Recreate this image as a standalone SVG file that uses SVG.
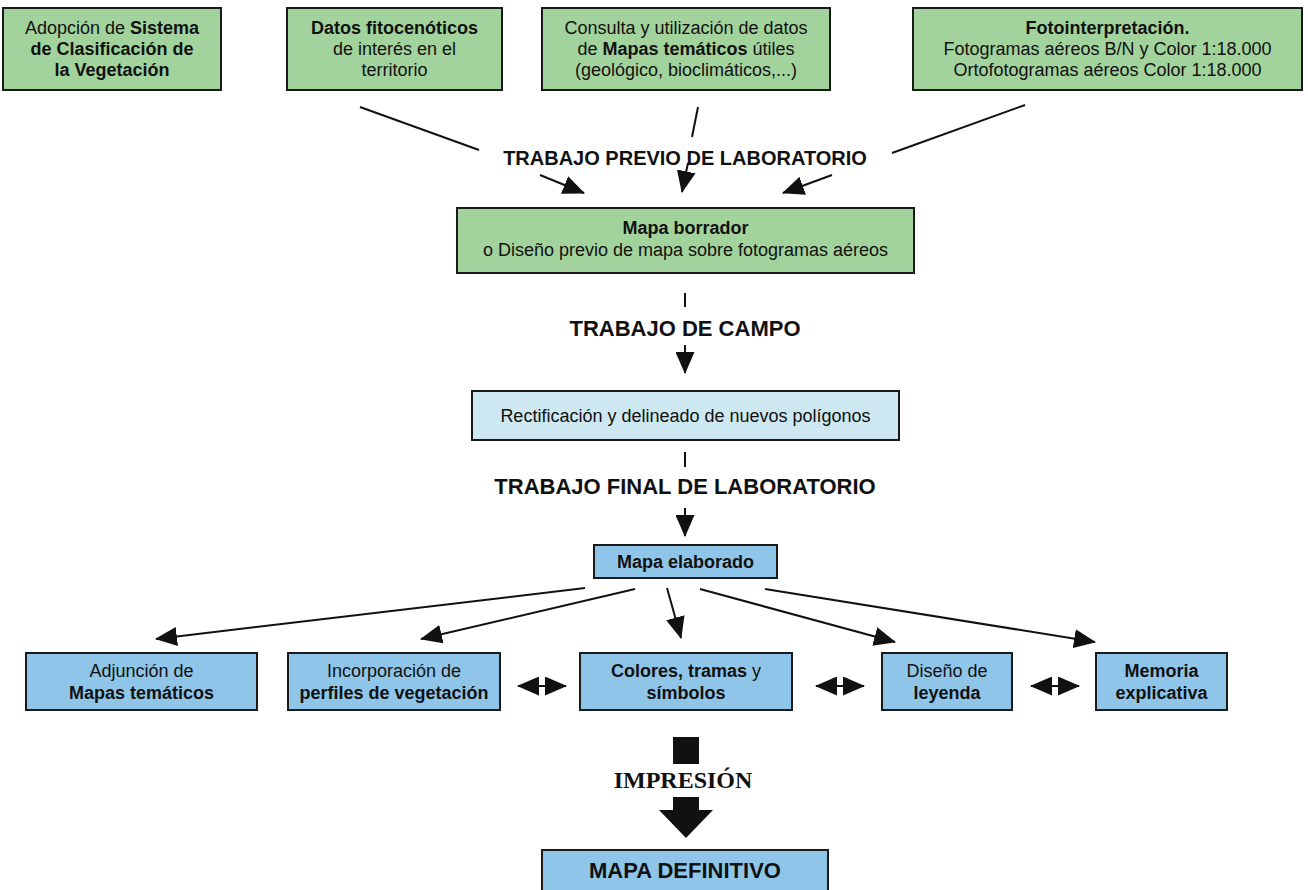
<svg xmlns="http://www.w3.org/2000/svg" width="1308" height="890" viewBox="0 0 1308 890">
<style>
text{font-family:"Liberation Sans",Arial,sans-serif;fill:#111;text-anchor:middle;font-size:18px}
.b{font-weight:bold}
.g{fill:#a3d39c;stroke:#1a1a1a;stroke-width:2}
.lb{fill:#cde8f0;stroke:#1a1a1a;stroke-width:2}
.mb{fill:#8fc5e8;stroke:#1a1a1a;stroke-width:2}
.ln{stroke:#111;stroke-width:2;fill:none}
.h1{font-size:20px;font-weight:bold}
.h2{font-size:22px;font-weight:bold}
</style>
<defs>
<marker id="ah" markerUnits="userSpaceOnUse" markerWidth="22" markerHeight="19" viewBox="0 0 22 19" refX="21" refY="9.5" orient="auto-start-reverse">
<path d="M0,0 L22,9.5 L0,19 z" fill="#111"/>
</marker>
</defs>
<rect width="1308" height="890" fill="#fff"/>

<g id="n1"><rect class="g" x="3" y="8" width="218" height="82"/>
<text x="112" y="34">Adopción de <tspan class="b">Sistema</tspan></text>
<text x="112" y="55" class="b">de Clasificación de</text>
<text x="112" y="76" class="b">la Vegetación</text></g>

<g id="n2"><rect class="g" x="287" y="8" width="215" height="82"/>
<text x="394.5" y="34" class="b">Datos fitocenóticos</text>
<text x="394.5" y="55">de interés en el</text>
<text x="394.5" y="76">territorio</text></g>

<g id="n3"><rect class="g" x="542" y="8" width="288" height="82"/>
<text x="686" y="34">Consulta y utilización de datos</text>
<text x="686" y="55">de <tspan class="b">Mapas temáticos</tspan> útiles</text>
<text x="686" y="76">(geológico, bioclimáticos,...)</text></g>

<g id="n4"><rect class="g" x="913" y="8" width="389" height="82"/>
<text x="1107.5" y="34" class="b">Fotointerpretación.</text>
<text x="1107.5" y="55">Fotogramas aéreos B/N y Color 1:18.000</text>
<text x="1107.5" y="76">Ortofotogramas aéreos Color 1:18.000</text></g>

<g id="l1"><text x="685" y="165" class="h1">TRABAJO PREVIO DE LABORATORIO</text></g>

<g id="n5"><rect class="g" x="457" y="208" width="457" height="65"/>
<text x="685.5" y="234" class="b">Mapa borrador</text>
<text x="685.5" y="256">o Diseño previo de mapa sobre fotogramas aéreos</text></g>

<g id="l2"><text x="685" y="336" class="h2">TRABAJO DE CAMPO</text></g>

<g id="n6"><rect class="lb" x="472" y="391" width="427" height="49"/>
<text x="685.5" y="422">Rectificación y delineado de nuevos polígonos</text></g>

<g id="l3"><text x="685" y="494" class="h2">TRABAJO FINAL DE LABORATORIO</text></g>

<g id="n7"><rect class="mb" x="594" y="545" width="183" height="33"/>
<text x="685.5" y="568" class="b">Mapa elaborado</text></g>

<g id="n8"><rect class="mb" x="26" y="653" width="231" height="57"/>
<text x="141.5" y="677">Adjunción de</text>
<text x="141.5" y="699" class="b">Mapas temáticos</text></g>

<g id="n9"><rect class="mb" x="288" y="653" width="212" height="57"/>
<text x="394" y="677">Incorporación de</text>
<text x="394" y="699" class="b">perfiles de vegetación</text></g>

<g id="n10"><rect class="mb" x="580" y="653" width="212" height="57"/>
<text x="686" y="677"><tspan class="b">Colores, tramas</tspan> y</text>
<text x="686" y="699" class="b">símbolos</text></g>

<g id="n11"><rect class="mb" x="882" y="653" width="130" height="57"/>
<text x="947" y="677">Diseño de</text>
<text x="947" y="699" class="b">leyenda</text></g>

<g id="n12"><rect class="mb" x="1096" y="653" width="131" height="57"/>
<text x="1161.5" y="677" class="b">Memoria</text>
<text x="1161.5" y="699" class="b">explicativa</text></g>

<g id="n13"><rect class="mb" x="542" y="850" width="286" height="50"/>
<text x="685" y="878" class="h2">MAPA DEFINITIVO</text></g>

<g id="connectors">
<line class="ln" x1="360" y1="107" x2="479" y2="150"/>
<line class="ln" x1="540" y1="175" x2="584" y2="193" marker-end="url(#ah)"/>
<line class="ln" x1="698" y1="107" x2="692" y2="137"/>
<line class="ln" x1="688" y1="163" x2="682" y2="192" marker-end="url(#ah)"/>
<line class="ln" x1="1025" y1="105" x2="892" y2="153"/>
<line class="ln" x1="832" y1="175" x2="783" y2="193" marker-end="url(#ah)"/>
<line class="ln" x1="685" y1="293" x2="685" y2="307"/>
<line class="ln" x1="685" y1="345" x2="685" y2="373" marker-end="url(#ah)"/>
<line class="ln" x1="685" y1="452" x2="685" y2="467"/>
<line class="ln" x1="685" y1="508" x2="685" y2="536" marker-end="url(#ah)"/>
<line class="ln" x1="585" y1="588" x2="156" y2="639" marker-end="url(#ah)"/>
<line class="ln" x1="635" y1="589" x2="421" y2="639" marker-end="url(#ah)"/>
<line class="ln" x1="667" y1="588" x2="681" y2="638" marker-end="url(#ah)"/>
<line class="ln" x1="700" y1="589" x2="895" y2="642" marker-end="url(#ah)"/>
<line class="ln" x1="765" y1="589" x2="1095" y2="642" marker-end="url(#ah)"/>
<line class="ln" x1="518" y1="686" x2="566" y2="686" marker-start="url(#ah)" marker-end="url(#ah)"/>
<line class="ln" x1="816" y1="686" x2="864" y2="686" marker-start="url(#ah)" marker-end="url(#ah)"/>
<line class="ln" x1="1031" y1="686" x2="1079" y2="686" marker-start="url(#ah)" marker-end="url(#ah)"/>
<rect x="673" y="737" width="26" height="75" fill="#111"/>
<polygon points="659,810 713,810 686,838" fill="#111"/>
<rect x="613" y="764" width="139" height="33" fill="#fff"/>
<text x="683" y="788" style="font-family:'Liberation Serif','Times New Roman',serif;font-weight:bold;font-size:24px">IMPRESIÓN</text>
</g>
</svg>
